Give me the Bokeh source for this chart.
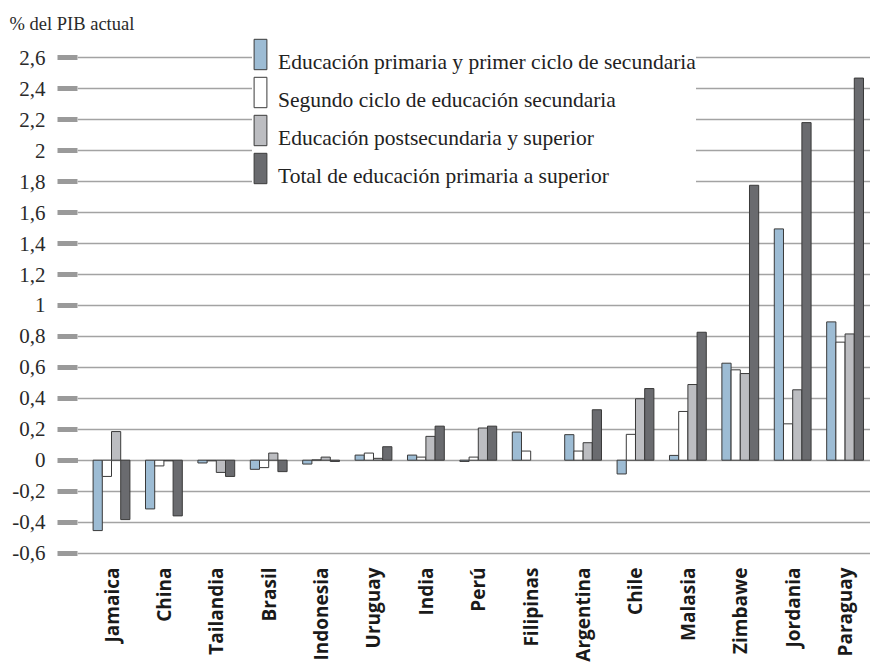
import math
import numpy as np
from bokeh.plotting import figure
from bokeh.models import (ColumnDataSource, FixedTicker, CustomJSTickFormatter, Range1d,
                          LinearAxis, Legend, LegendItem)
from bokeh.embed import file_html
from bokeh.resources import INLINE

# ---- data ----
countries = ["Jamaica", "China", "Tailandia", "Brasil", "Indonesia", "Uruguay", "India",
             "Perú", "Filipinas", "Argentina", "Chile", "Malasia", "Zimbawe", "Jordania", "Paraguay"]
primaria = [-0.455, -0.315, -0.018, -0.059, -0.025, 0.033, 0.033, -0.008, 0.182, 0.165,
            -0.089, 0.031, 0.627, 1.495, 0.894]
segundo_ciclo = [-0.105, -0.037, -0.004, -0.048, 0.002, 0.046, 0.020, 0.020, 0.059, 0.059,
                 0.167, 0.315, 0.584, 0.235, 0.763]
postsecundaria = [0.185, -0.004, -0.079, 0.046, 0.020, 0.012, 0.154, 0.208, None, 0.113,
                  0.397, 0.489, 0.560, 0.455, 0.816]
total = [-0.384, -0.360, -0.105, -0.074, -0.008, 0.087, 0.220, 0.220, None, 0.326,
         0.463, 0.827, 1.777, 2.182, 2.470]

series_names = ["Educación primaria y primer ciclo de secundaria",
                "Segundo ciclo de educación secundaria",
                "Educación postsecundaria y superior",
                "Total de educación primaria a superior"]
series_colors = ["#9dbcd4", "#ffffff", "#bcbdc1", "#6a6b6f"]
y_ticks = [-0.6, -0.4, -0.2, 0.0, 0.2, 0.4, 0.6, 0.8, 1.0, 1.2, 1.4, 1.6, 1.8, 2.0, 2.2, 2.4, 2.6]
y_title = "% del PIB actual"

SERIF = "Liberation Serif"

# ---- figure ----
p = figure(width=870, height=664,
           x_range=Range1d(-0.649, 14.485), y_range=Range1d(-0.629, 2.7516),
           output_backend="svg", toolbar_location=None,
           min_border_left=77, min_border_right=0, min_border_top=34, min_border_bottom=106)
p.outline_line_color = None
p.background_fill_color = "white"
p.border_fill_color = "white"
p.xgrid.grid_line_color = None
p.ygrid.ticker = FixedTicker(ticks=y_ticks)
p.ygrid.grid_line_color = "#a3a3a3"
p.ygrid.grid_line_width = 1.5

# title (unit label, top-left)
p.title.text = y_title
p.title.align = "left"
p.title.offset = -68
p.title.standoff = 1
p.title.text_font = SERIF
p.title.text_font_size = "18.5px"
p.title.text_font_style = "normal"
p.title.text_color = "#2a2a2a"

# y axis
ya = p.yaxis[0]
ya.ticker = FixedTicker(ticks=y_ticks)
ya.formatter = CustomJSTickFormatter(code="""
    let s = tick.toFixed(1).replace('.', ',');
    if (s.endsWith(',0')) s = s.slice(0, -2);
    if (s == '-0') s = '0';
    return s;
""")
ya.axis_line_color = None
ya.major_tick_in = 0
ya.major_tick_out = 20
ya.major_tick_line_width = 5
ya.major_tick_line_color = "#9a9a9a"
ya.minor_tick_line_color = None
ya.major_label_standoff = 12
ya.major_label_text_font = SERIF
ya.major_label_text_font_size = "21px"
ya.major_label_text_color = "#2a2a2a"

# black tick at zero
zero_axis = LinearAxis(ticker=FixedTicker(ticks=[0]), fixed_location=p.x_range.start,
                       axis_line_color=None, major_tick_in=0, major_tick_out=20,
                       major_tick_line_width=5, major_tick_line_color="#1c1c1c",
                       minor_tick_line_color=None, major_label_text_alpha=0,
                       major_label_text_font_size="1px")
p.add_layout(zero_axis, "left")

# x axis
xa = p.xaxis[0]
xa.ticker = FixedTicker(ticks=list(range(len(countries))))
xa.major_label_overrides = {i: c for i, c in enumerate(countries)}
xa.major_label_orientation = math.pi / 2
xa.axis_line_color = None
xa.major_tick_line_color = None
xa.minor_tick_line_color = None
xa.major_label_standoff = 4
xa.major_label_text_font = "Open Sans"
xa.major_label_text_font_style = "bold"
xa.major_label_text_font_size = "19px"
xa.major_label_text_color = "#1a1a1a"

# bars
n_series = 4
bar_w = 0.1756
idx = np.arange(len(countries), dtype=float)
swatch_items, text_items = [], []
for k, (vals, name, col) in enumerate(zip([primaria, segundo_ciclo, postsecundaria, total],
                                          series_names, series_colors)):
    offset = (k - (n_series - 1) / 2) * bar_w
    src = ColumnDataSource(dict(x=idx + offset, top=np.array(vals, dtype=float)))
    r = p.vbar(x="x", top="top", bottom=0, width=bar_w, source=src,
               fill_color=col, line_color="#3a3a3a", line_width=1)
    swatch_items.append(LegendItem(label=" ", renderers=[r]))
    # invisible renderer only used to carry the legend text
    ghost = p.vbar(x=[], top=[], width=bar_w, fill_alpha=0, line_alpha=0)
    text_items.append(LegendItem(label=name, renderers=[ghost]))

common = dict(glyph_width=16, glyph_height=38, label_standoff=10, margin=0, spacing=0,
              label_text_font=SERIF, label_text_font_size="21.5px",
              label_text_color="#222222")

# text legend (white box, drawn first)
legend_text = Legend(items=text_items, location=(175, 362), padding=12,
                     background_fill_color="white", background_fill_alpha=1.0,
                     border_line_color=None, **common)
p.add_layout(legend_text)

# swatch legend (transparent, drawn on top)
legend_sw = Legend(items=swatch_items, location=(175, 370), padding=0,
                   background_fill_alpha=0.0, border_line_color=None, **common)
p.add_layout(legend_sw)

open("out.html", "w").write(file_html(p, INLINE))
